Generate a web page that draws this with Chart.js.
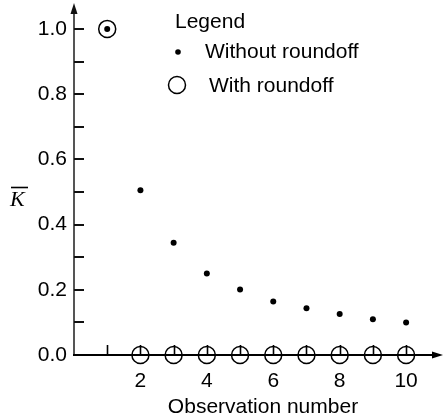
<!DOCTYPE html>
<html>
<head>
<meta charset="utf-8">
<script src="https://cdn.jsdelivr.net/npm/chart.js@4"></script>
<style>
html,body{margin:0;padding:0;background:#fff;}
#c{display:block;}
</style>
</head>
<body>
<canvas id="c" width="444" height="420"></canvas>
<script>
// ---- data ----
const observations = [1, 2, 3, 4, 5, 6, 7, 8, 9, 10];
const withoutRoundoff = [1.0, 0.505, 0.344, 0.25, 0.201, 0.164, 0.143, 0.126, 0.11, 0.1];
const withRoundoff = [1.0, 0, 0, 0, 0, 0, 0, 0, 0, 0];
const xTickLabels = [2, 4, 6, 8, 10];
const yTickLabels = [0.0, 0.2, 0.4, 0.6, 0.8, 1.0];
const yMinorTicks = [0.1, 0.2, 0.3, 0.4, 0.5, 0.6, 0.7, 0.8, 0.9, 1.0];
const xMinorTicks = [1, 2, 3, 4, 5, 6, 7, 8, 9, 10];
const legendTitle = "Legend";
const seriesNames = ["Without roundoff", "With roundoff"];
const xTitle = "Observation number";
const yTitle = "K";

const FONT = "'Liberation Sans', Arial, Helvetica, sans-serif";
const FS = 21;

const toPts = (ys) => observations.map((x, i) => ({x: x, y: ys[i]}));

const axesPlugin = {
  id: 'axesPlugin',
  beforeDatasetsDraw(chart) {
    const ctx = chart.ctx;
    const xs = chart.scales.x, ys = chart.scales.y;
    const x0 = xs.getPixelForValue(0), y0 = ys.getPixelForValue(0);
    const xTip = chart.chartArea.right + 9, yTip = chart.chartArea.top - 7;
    ctx.save();
    // y axis
    ctx.strokeStyle = '#555';
    ctx.lineWidth = 2;
    ctx.beginPath(); ctx.moveTo(x0, y0 + 1); ctx.lineTo(x0, yTip + 8); ctx.stroke();
    ctx.fillStyle = '#111';
    ctx.beginPath(); ctx.moveTo(x0, yTip); ctx.lineTo(x0 - 3.5, yTip + 11); ctx.lineTo(x0 + 3.5, yTip + 11); ctx.closePath(); ctx.fill();
    // y ticks
    ctx.strokeStyle = '#111';
    ctx.lineWidth = 2;
    yMinorTicks.forEach(v => {
      const p = Math.round(ys.getPixelForValue(v));
      ctx.beginPath(); ctx.moveTo(x0, p); ctx.lineTo(x0 + 10, p); ctx.stroke();
    });
    // x axis
    ctx.strokeStyle = '#000';
    ctx.lineWidth = 2;
    ctx.beginPath(); ctx.moveTo(x0 - 1, y0); ctx.lineTo(xTip - 7, y0); ctx.stroke();
    ctx.fillStyle = '#000';
    ctx.beginPath(); ctx.moveTo(xTip, y0); ctx.lineTo(xTip - 11, y0 - 3.5); ctx.lineTo(xTip - 11, y0 + 3.5); ctx.closePath(); ctx.fill();
    // x ticks
    ctx.lineWidth = 1.6;
    xMinorTicks.forEach(v => {
      const p = Math.round(xs.getPixelForValue(v)) + 0.5;
      ctx.beginPath(); ctx.moveTo(p, y0); ctx.lineTo(p, y0 - 10); ctx.stroke();
    });
    ctx.restore();
  },
  afterDraw(chart) {
    const ctx = chart.ctx;
    ctx.save();
    ctx.fillStyle = '#000';
    ctx.strokeStyle = '#000';
    ctx.font = FS + 'px ' + FONT;
    ctx.textBaseline = 'alphabetic';
    ctx.textAlign = 'left';
    // legend
    ctx.fillText(legendTitle, 175, 28);
    ctx.fillText(seriesNames[0], 205, 58);
    ctx.fillText(seriesNames[1], 209, 92);
    ctx.beginPath(); ctx.arc(178, 52, 2.8, 0, Math.PI * 2); ctx.fill();
    ctx.lineWidth = 1.5;
    ctx.beginPath(); ctx.arc(177, 85, 8.5, 0, Math.PI * 2); ctx.stroke();
    // x title
    ctx.textAlign = 'center';
    ctx.fillText(xTitle, 263, 413);
    // y title (K with overbar)
    ctx.font = 'italic 22px "Liberation Serif", "Times New Roman", serif';
    ctx.textAlign = 'left';
    ctx.fillText(yTitle, 10, 206);
    ctx.lineWidth = 1.6;
    ctx.beginPath(); ctx.moveTo(11, 187.5); ctx.lineTo(28, 187.5); ctx.stroke();
    ctx.restore();
  }
};

function noPad(s) {
  s.paddingLeft = 0; s.paddingRight = 0; s.paddingTop = 0; s.paddingBottom = 0;
}

new Chart(document.getElementById('c'), {
  type: 'scatter',
  data: {
    datasets: [
      {
        label: seriesNames[1],
        data: toPts(withRoundoff),
        pointStyle: 'circle',
        pointRadius: 8.5,
        pointHoverRadius: 8.5,
        pointBorderWidth: 1.5,
        borderColor: '#000',
        backgroundColor: 'rgba(0,0,0,0)',
        pointBackgroundColor: 'rgba(0,0,0,0)',
        pointBorderColor: '#000',
        showLine: false,
        clip: false,
        order: 2
      },
      {
        label: seriesNames[0],
        data: toPts(withoutRoundoff),
        pointStyle: 'circle',
        pointRadius: 3,
        pointHoverRadius: 3,
        pointBorderWidth: 0,
        backgroundColor: '#000',
        pointBackgroundColor: '#000',
        borderColor: '#000',
        showLine: false,
        clip: false,
        order: 1
      }
    ]
  },
  options: {
    responsive: false,
    animation: false,
    events: [],
    layout: {padding: {top: 10, right: 10, left: 0, bottom: 0}},
    plugins: {legend: {display: false}, tooltip: {enabled: false}, title: {display: false}},
    scales: {
      x: {
        type: 'linear',
        min: 0,
        max: 10.84,
        grid: {display: false, drawTicks: false},
        border: {display: false},
        afterFit(s) { s.height = 65; noPad(s); },
        ticks: {
          stepSize: 1,
          includeBounds: false,
          autoSkip: false,
          maxRotation: 0,
          padding: 14,
          color: '#000',
          font: {family: FONT, size: FS},
          callback(v) { return xTickLabels.includes(v) ? String(v) : ''; }
        }
      },
      y: {
        type: 'linear',
        min: 0,
        max: 1.058,
        grid: {display: false, drawTicks: false},
        border: {display: false},
        afterFit(s) { s.width = 74; noPad(s); },
        ticks: {
          stepSize: 0.1,
          includeBounds: false,
          autoSkip: false,
          padding: 7,
          color: '#000',
          font: {family: FONT, size: FS},
          callback(v) {
            const m = yTickLabels.find(t => Math.abs(t - v) < 1e-6);
            return m === undefined ? '' : m.toFixed(1);
          }
        }
      }
    }
  },
  plugins: [axesPlugin]
});
</script>
</body>
</html>
